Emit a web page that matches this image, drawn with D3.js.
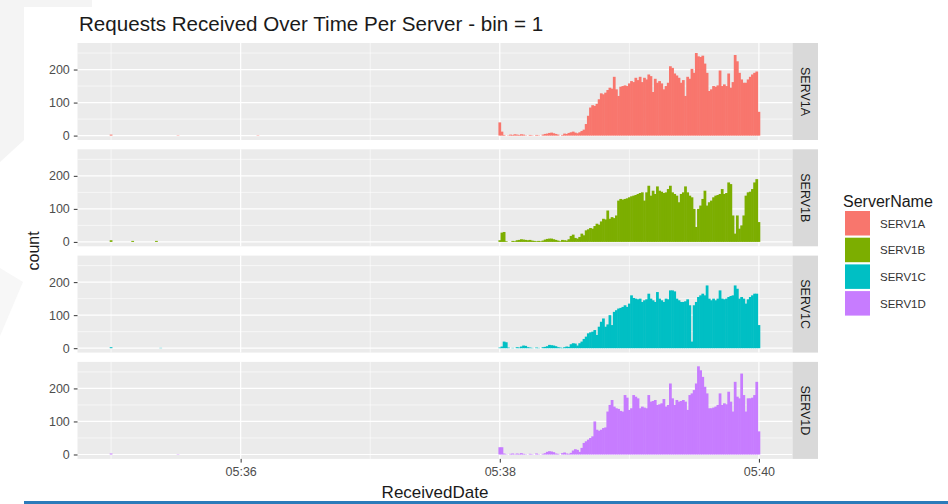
<!DOCTYPE html>
<html>
<head>
<meta charset="utf-8">
<script src="https://cdnjs.cloudflare.com/ajax/libs/d3/7.8.5/d3.min.js"></script>
<style>
  body { margin: 0; background: #fff; }
  svg { display: block; font-family: "Liberation Sans", Arial, sans-serif; }
</style>
</head>
<body>
<div id="chart"></div>
<script>
// ---- data ----
const servers = ["SERV1A", "SERV1B", "SERV1C", "SERV1D"];
const colors = ["#F8766D", "#7CAE00", "#00BFC4", "#C77CFF"];

// counts per 1-second bin, 05:38:00 ... 05:40:00
const serv1A = [
  40,12,2,0,1,3,2,4,3,2,4,3,1,0,2,1,0,2,1,0,
  3,5,6,8,9,7,5,3,0,2,6,5,8,10,12,9,7,10,14,18,
  35,60,85,92,90,96,110,128,125,130,138,145,142,178,140,120,148,150,152,150,
  158,165,162,175,168,178,162,175,170,185,180,132,172,160,165,158,140,150,160,210,
  205,188,182,175,160,168,120,178,172,202,190,250,240,238,242,218,190,135,140,150,
  148,152,197,150,155,150,188,145,162,244,225,190,170,160,160,170,178,185,190,194,
  72];
const serv1B = [
  5,28,30,2,0,0,3,2,5,6,8,7,6,5,6,4,3,2,3,2,
  4,7,9,10,10,8,6,4,2,6,5,4,8,18,22,12,10,15,25,20,
  35,38,42,40,48,55,52,62,70,68,95,70,75,72,80,125,130,128,130,132,
  135,138,140,142,145,148,150,125,150,170,140,155,145,168,155,152,148,150,160,170,
  150,145,140,120,145,150,168,150,140,135,100,45,100,110,130,155,110,120,125,135,
  140,142,145,160,145,148,180,175,80,25,80,40,50,80,140,150,152,160,180,190,
  60];
const serv1C = [
  2,5,20,18,2,0,1,0,3,2,5,8,7,3,2,1,0,2,1,0,
  3,4,6,10,9,8,6,3,2,1,3,5,4,12,15,14,8,15,20,28,
  35,45,48,50,55,40,65,80,90,65,72,100,70,110,115,120,122,125,130,125,
  135,160,152,150,148,150,140,145,148,165,150,145,140,170,150,145,140,150,148,175,
  175,172,150,145,140,140,142,148,130,20,130,140,155,160,165,160,190,150,145,150,
  145,150,175,150,148,150,155,158,160,190,180,150,155,150,135,148,155,160,165,165,
  70];
const serv1D = [
  22,22,3,1,0,2,3,1,3,2,4,2,1,0,2,1,0,3,1,0,
  2,4,8,10,9,7,3,2,0,4,6,3,2,5,12,16,14,8,20,35,
  40,45,50,55,100,75,72,75,80,82,130,150,165,145,140,138,132,130,180,172,
  135,140,180,175,170,140,145,142,140,180,160,162,165,150,152,155,168,145,150,215,
  170,150,165,160,162,165,160,135,180,185,195,215,267,255,235,205,185,140,140,142,
  145,150,185,150,155,152,190,160,130,220,175,170,245,180,130,170,170,172,180,220,
  70];

// a few sparse bins before 05:38 : [seconds from 05:38:00, count]
const earlyA = [[-180, 3], [-149, 1], [-112, 1]];
const earlyB = [[-180, 5], [-170, 3], [-159, 3]];
const earlyC = [[-180, 3], [-157, 1]];
const earlyD = [[-180, 3], [-149, 1]];

const xTicks = ["05:36", "05:38", "05:40"];
const xMinor = ["05:35", "05:37", "05:39"];
const yTicks = [0, 100, 200];
const yMinor = [50, 150, 250];

const seriesCounts = [serv1A, serv1B, serv1C, serv1D];
const seriesEarly = [earlyA, earlyB, earlyC, earlyD];

// ---- setup ----
const W = 948, H = 504;
const parseT = d3.utcParse("%H:%M");
const t0 = parseT("05:38");
const sec = s => new Date(t0.getTime() + s * 1000);

const bins = seriesCounts.map((arr, i) => {
  const rows = seriesEarly[i].map(d => ({ s: d[0], n: d[1] }));
  arr.forEach((n, k) => rows.push({ s: k, n: n }));
  return rows;
});

const allS = bins.flat().map(d => d.s);
const sMin = d3.min(allS) - 0.5, sMax = d3.max(allS) + 0.5;
const sPad = (sMax - sMin) * 0.05;
const nMax = d3.max(bins.flat(), d => d.n);

const panel = { left: 77.5, right: 792.5, top: 43, h: 97, step: 106.3 };
const strip = { w: 25.5 };

const x = d3.scaleUtc()
  .domain([sec(sMin - sPad), sec(sMax + sPad)])
  .range([panel.left, panel.right]);

const svg = d3.select("#chart").append("svg")
  .attr("width", W).attr("height", H);

// faint slide background
svg.append("path")
  .attr("d", "M0,0H92V7H24V140L0,162Z")
  .attr("fill", "#f4f4f4");
svg.append("path")
  .attr("d", "M0,268L23,282L0,336Z")
  .attr("fill", "#f7f7f7");
svg.append("rect")
  .attr("x", 24).attr("y", 501).attr("width", W - 24).attr("height", 3)
  .attr("fill", "#2b7bba");

servers.forEach((name, i) => {
  const top = panel.top + i * panel.step;
  const y = d3.scaleLinear()
    .domain([-0.05 * nMax, 1.05 * nMax])
    .range([top + panel.h, top]);

  const g = svg.append("g").attr("class", "panel");
  g.append("rect")
    .attr("x", panel.left).attr("y", top)
    .attr("width", panel.right - panel.left).attr("height", panel.h)
    .attr("fill", "#ebebeb");

  // grid
  g.selectAll(".ymin").data(yMinor).enter().append("line")
    .attr("x1", panel.left).attr("x2", panel.right)
    .attr("y1", d => y(d)).attr("y2", d => y(d))
    .attr("stroke", "#fff").attr("stroke-width", 0.6);
  g.selectAll(".xmin").data(xMinor).enter().append("line")
    .attr("x1", d => x(parseT(d))).attr("x2", d => x(parseT(d)))
    .attr("y1", top).attr("y2", top + panel.h)
    .attr("stroke", "#fff").attr("stroke-width", 0.6);
  g.selectAll(".ymaj").data(yTicks).enter().append("line")
    .attr("x1", panel.left).attr("x2", panel.right)
    .attr("y1", d => y(d)).attr("y2", d => y(d))
    .attr("stroke", "#fff").attr("stroke-width", 1.2);
  g.selectAll(".xmaj").data(xTicks).enter().append("line")
    .attr("x1", d => x(parseT(d))).attr("x2", d => x(parseT(d)))
    .attr("y1", top).attr("y2", top + panel.h)
    .attr("stroke", "#fff").attr("stroke-width", 1.2);

  // bars (slight overlap so neighbouring bins join without seams)
  g.selectAll(".bar").data(bins[i].filter(d => d.n > 0)).enter().append("rect")
    .attr("x", d => x(sec(d.s - 0.5)) - 0.3)
    .attr("width", d => x(sec(d.s + 0.5)) - x(sec(d.s - 0.5)) + 0.6)
    .attr("y", d => y(d.n))
    .attr("height", d => y(0) - y(d.n))
    .attr("fill", colors[i]);

  // y axis
  const ya = svg.append("g")
    .attr("transform", "translate(" + panel.left + ",0)")
    .call(d3.axisLeft(y).tickValues(yTicks).tickSize(3.7).tickPadding(4));
  ya.select(".domain").remove();
  ya.selectAll("line").attr("stroke", "#333");
  ya.selectAll("text").attr("fill", "#4d4d4d").attr("font-size", "12.5px")
    .attr("font-family", "Liberation Sans, Arial, sans-serif");

  // strip
  svg.append("rect")
    .attr("x", panel.right).attr("y", top)
    .attr("width", strip.w).attr("height", panel.h)
    .attr("fill", "#d9d9d9");
  svg.append("text")
    .attr("transform", "translate(" + (panel.right + strip.w / 2 - 4.3) + "," + (top + panel.h / 2) + ") rotate(90)")
    .attr("text-anchor", "middle")
    .attr("font-size", "12.5px")
    .attr("fill", "#1a1a1a")
    .text(name);
});

// x axis
const bottom = panel.top + 3 * panel.step + panel.h;
const xa = svg.append("g")
  .attr("transform", "translate(0," + bottom + ")")
  .call(d3.axisBottom(x).tickValues(xTicks.map(parseT))
    .tickFormat(d3.utcFormat("%H:%M")).tickSize(3.7).tickPadding(5));
xa.select(".domain").remove();
xa.selectAll("line").attr("stroke", "#333");
xa.selectAll("text").attr("fill", "#4d4d4d").attr("font-size", "12.5px")
  .attr("font-family", "Liberation Sans, Arial, sans-serif");

// titles
svg.append("text")
  .attr("x", 79).attr("y", 31)
  .attr("font-size", "20.6px").attr("fill", "#1a1a1a")
  .text("Requests Received Over Time Per Server - bin = 1");
svg.append("text")
  .attr("x", (panel.left + panel.right) / 2).attr("y", 498)
  .attr("text-anchor", "middle")
  .attr("font-size", "17px").attr("fill", "#1a1a1a")
  .text("ReceivedDate");
svg.append("text")
  .attr("transform", "translate(38.5," + (panel.top + (3 * panel.step + panel.h) / 2) + ") rotate(-90)")
  .attr("text-anchor", "middle")
  .attr("font-size", "16px").attr("fill", "#1a1a1a")
  .text("count");

// legend
const lg = svg.append("g").attr("transform", "translate(843,0)");
lg.append("text").attr("x", 0).attr("y", 207)
  .attr("font-size", "16px").attr("fill", "#1a1a1a")
  .text("ServerName");
servers.forEach((name, i) => {
  lg.append("rect")
    .attr("x", 2).attr("y", 211 + i * 26.7)
    .attr("width", 25).attr("height", 24.5)
    .attr("fill", colors[i]);
  lg.append("text")
    .attr("x", 37).attr("y", 211 + i * 26.7 + 16.5)
    .attr("font-size", "11.5px").attr("fill", "#333")
    .text(name);
});
</script>
</body>
</html>
